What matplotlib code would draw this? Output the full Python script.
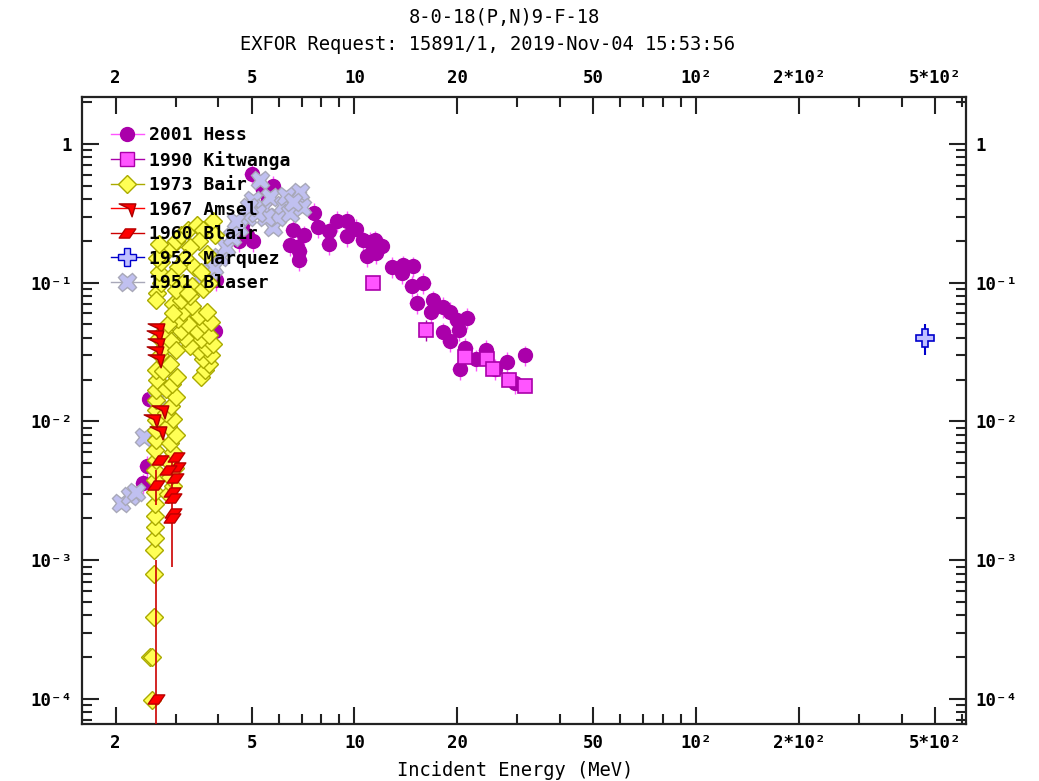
import matplotlib
matplotlib.use("Agg")
import matplotlib.pyplot as plt
import numpy as np
from matplotlib.path import Path
from matplotlib.lines import Line2D
from matplotlib.ticker import FixedLocator, FixedFormatter, NullFormatter

# ---------------- data ----------------
hess_E = [5.0, 5.77, 5.4, 5.6, 7.6, 6.6, 7.1, 6.46, 6.9, 6.9, 7.8, 8.4, 8.4, 8.9, 9.5,
          10.1, 9.5, 10.6, 11.1, 11.5, 12.0, 10.9, 11.6, 12.9, 13.9, 14.8, 13.8, 14.7,
          15.9, 15.2, 17.0, 16.8, 18.2, 19.0, 19.9, 21.4, 18.2, 20.2, 19.0, 21.1, 24.2,
          22.7, 28.0, 31.6, 20.3, 25.7, 29.6, 4.7, 5.05, 6.8, 4.85, 4.6,
          3.93, 3.9, 2.83, 2.51, 2.82, 2.47, 2.40]
hess_S = [0.61, 0.50, 0.466, 0.41, 0.32, 0.24, 0.22, 0.187, 0.17, 0.146, 0.252, 0.235, 0.19,
          0.28, 0.28, 0.244, 0.217, 0.203, 0.197, 0.203, 0.184, 0.157, 0.163, 0.13, 0.134,
          0.132, 0.118, 0.095, 0.1, 0.072, 0.075, 0.061, 0.067, 0.062, 0.054, 0.056, 0.044,
          0.046, 0.038, 0.034, 0.033, 0.028, 0.027, 0.030, 0.024, 0.024, 0.019, 0.26, 0.2,
          0.18, 0.22, 0.2,
          0.105, 0.045, 0.026, 0.0146, 0.0097, 0.0048, 0.0036]

kit_E = [11.3, 16.2, 21.0, 24.4, 25.4, 28.3, 31.5]
kit_S = [0.1, 0.046, 0.029, 0.028, 0.024, 0.020, 0.018]
kit_err = [0.0, 0.008, 0.0, 0.0, 0.0, 0.0, 0.0]

bair_E = [2.56, 2.52, 2.56, 2.59, 2.59, 2.59, 2.60, 2.60, 2.60, 2.61, 2.61, 2.60, 2.61,
          2.62, 2.60, 2.62, 2.63, 2.62, 2.63, 2.62, 2.63, 2.64, 2.63,
          2.85, 2.95, 2.88, 2.98, 2.85, 2.95, 2.88, 3.0, 2.85, 2.95, 2.8, 2.9, 3.0, 2.8,
          2.92, 3.02, 2.75, 2.88,
          3.55, 3.65, 3.75, 3.6, 3.8, 3.5, 3.7, 3.85, 3.55, 3.75, 3.45, 3.62, 3.8, 3.5,
          3.7, 3.3, 3.2, 3.1, 3.25, 3.05, 3.15, 3.35, 2.95, 3.1, 3.3, 2.7, 2.75, 2.68,
          2.78, 2.9, 3.0, 2.85, 2.95,
          2.65, 2.72, 2.68, 2.72, 2.78, 2.9, 3.0, 3.1, 3.25, 3.45, 3.6, 3.85, 3.5, 3.3,
          3.2, 3.4, 3.55, 3.05, 2.9, 3.15, 3.35, 3.6, 3.0, 3.25, 3.75, 3.9, 3.7, 2.62,
          2.65, 2.68]
bair_S = [9.8e-5, 2.0e-4, 2.0e-4, 3.9e-4, 8.0e-4, 1.19e-3, 1.44e-3, 1.73e-3, 2.1e-3,
          2.56e-3, 3.1e-3, 3.8e-3, 4.5e-3, 5.3e-3, 6.2e-3, 7.4e-3, 8.7e-3, 1.02e-2, 1.2e-2,
          1.43e-2, 1.69e-2, 1.99e-2, 2.35e-2,
          3.0e-3, 3.4e-3, 4.0e-3, 4.6e-3, 5.2e-3, 6.0e-3, 7.0e-3, 8.0e-3, 9.2e-3, 1.05e-2,
          1.15e-2, 1.3e-2, 1.5e-2, 1.7e-2, 1.85e-2, 2.1e-2, 2.3e-2, 2.6e-2,
          0.021, 0.0235, 0.026, 0.028, 0.030, 0.032, 0.034, 0.036, 0.039, 0.042, 0.045,
          0.05, 0.052, 0.058, 0.062, 0.035, 0.04, 0.045, 0.05, 0.055, 0.062, 0.068, 0.07,
          0.075, 0.08, 0.03, 0.034, 0.04, 0.045, 0.038, 0.033, 0.05, 0.06,
          0.085, 0.1, 0.12, 0.14, 0.16, 0.18, 0.2, 0.22, 0.24, 0.26, 0.24, 0.28, 0.2, 0.18,
          0.15, 0.13, 0.12, 0.13, 0.11, 0.1, 0.095, 0.09, 0.088, 0.085, 0.1, 0.22, 0.16,
          0.075, 0.15, 0.19]

amsel_E = [2.63, 2.60, 2.63, 2.60, 2.63, 2.70, 2.67, 2.55]
amsel_S = [0.047, 0.042, 0.037, 0.032, 0.028, 0.012, 0.0086, 0.0105]

blair_E = [2.62, 2.92, 2.63, 3.0, 3.02, 2.98, 2.95, 2.95, 2.69, 2.85, 2.92]
blair_S = [1.0e-4, 0.0031, 0.0035, 0.0055, 0.0047, 0.0039, 0.0028, 0.0022, 0.0053, 0.0045, 0.0020]
blair_err = [9e-4, 0.0022, 0.001, 0, 0, 0, 0, 0, 0, 0, 0]

marq_E = [467.0]
marq_S = [0.040]
marq_err = [0.010]

blaser_E = [2.08, 2.2, 2.3, 2.43, 2.64, 2.78, 3.2, 3.25, 3.45, 3.4, 3.6, 3.75, 3.87, 4.03,
            4.22, 4.39, 4.85, 5.05, 5.28, 5.39, 5.65, 5.76, 5.92, 6.17, 6.46, 6.8, 6.91,
            7.01, 4.6, 4.5, 5.5, 6.3, 6.6, 5.2, 4.9]
blaser_S = [0.0026, 0.0029, 0.0031, 0.0077, 0.015, 0.037, 0.065, 0.055, 0.047, 0.040, 0.1,
            0.12, 0.13, 0.153, 0.181, 0.214, 0.298, 0.395, 0.55, 0.346, 0.415, 0.252, 0.298,
            0.363, 0.318, 0.415, 0.45, 0.35, 0.25, 0.28, 0.3, 0.42, 0.38, 0.32, 0.35]

x_ticks = [2, 5, 10, 20, 50, 100, 200, 500]
x_labels = ["2", "5", "10", "20", "50", "10²", "2*10²", "5*10²"]
y_ticks = [1e-4, 1e-3, 1e-2, 1e-1, 1]
y_labels = ["10⁻⁴", "10⁻³", "10⁻²", "10⁻¹", "1"]

title1 = "8-0-18(P,N)9-F-18"
title2 = "EXFOR Request: 15891/1, 2019-Nov-04 15:53:56"
xlabel = "Incident Energy (MeV)"

# ---------------- style ----------------
FONT = "DejaVu Sans Mono"
HESS_REL_Y = 0.17
HESS_REL_X = 0.05

amsel_marker = Path([(-1.0, 0.55), (1.0, 0.55), (0.55, -1.0), (0.15, 0.0), (-1.0, 0.55)],
                    [Path.MOVETO, Path.LINETO, Path.LINETO, Path.LINETO, Path.CLOSEPOLY])
blair_marker = Path([(-1.0, -0.55), (0.25, -0.55), (1.0, 0.55), (-0.25, 0.55), (-1.0, -0.55)],
                    [Path.MOVETO, Path.LINETO, Path.LINETO, Path.LINETO, Path.CLOSEPOLY])

series = [
    dict(label="2001 Hess", marker="o", ms=10, mfc="#aa00aa", mec="#aa00aa", ec="#ff55ff"),
    dict(label="1990 Kitwanga", marker="s", ms=9.5, mfc="#ff55ff", mec="#aa00aa", ec="#aa00aa"),
    dict(label="1973 Bair", marker="D", ms=9, mfc="#ffff55", mec="#aaaa00", ec="#aaaa00"),
    dict(label="1967 Amsel", marker=amsel_marker, ms=12, mfc="#ff0000", mec="#aa0000", ec="#ff0000"),
    dict(label="1960 Blair", marker=blair_marker, ms=12, mfc="#ff0000", mec="#bb0000", ec="#cc0000"),
    dict(label="1952 Marquez", marker="P", ms=13, mfc="#c0c0ff", mec="#0000cc", ec="#0000cc"),
    dict(label="1951 Blaser", marker="X", ms=13, mfc="#c0c0f0", mec="#a8a8b8", ec="#a8a8b8"),
]

W, H = 1039, 781
fig = plt.figure(figsize=(W / 100, H / 100), dpi=100)
ax = fig.add_axes([82 / W, 1 - 724 / H, (966 - 82) / W, (724 - 97) / H])
ax.set_xscale("log")
ax.set_yscale("log")
ax.set_xlim(1.595, 616)
ax.set_ylim(6.6e-5, 2.18)

# Hess
s = series[0]
hE = np.array(hess_E); hS = np.array(hess_S)
ax.errorbar(hE, hS, yerr=HESS_REL_Y * hS, xerr=HESS_REL_X * hE, fmt="none",
            ecolor=s["ec"], elinewidth=1, zorder=2)
ax.plot(hE, hS, ls="none", marker=s["marker"], ms=s["ms"], mfc=s["mfc"], mec=s["mec"],
        mew=1, zorder=2.1)
# Kitwanga
s = series[1]
ax.errorbar(kit_E, kit_S, yerr=kit_err, fmt="none", ecolor=s["ec"], elinewidth=1, zorder=3)
ax.plot(kit_E, kit_S, ls="none", marker=s["marker"], ms=s["ms"], mfc=s["mfc"], mec=s["mec"],
        mew=1.2, zorder=3.1)
# Blaser (drawn under the threshold data)
s = series[6]
ax.plot(blaser_E, blaser_S, ls="none", marker=s["marker"], ms=s["ms"], mfc=s["mfc"],
        mec=s["mec"], mew=1, zorder=3.5)
# Bair
s = series[2]
ax.plot(bair_E, bair_S, ls="none", marker=s["marker"], ms=s["ms"], mfc=s["mfc"], mec=s["mec"],
        mew=1, zorder=4)
# Amsel
s = series[3]
ax.plot(amsel_E, amsel_S, ls="none", marker=s["marker"], ms=s["ms"], mfc=s["mfc"],
        mec=s["mec"], mew=1, zorder=5)
# Blair
s = series[4]
ax.errorbar(blair_E, blair_S, yerr=blair_err, fmt="none", ecolor=s["ec"], elinewidth=1.2, zorder=6)
ax.plot(blair_E, blair_S, ls="none", marker=s["marker"], ms=s["ms"], mfc=s["mfc"],
        mec=s["mec"], mew=1, zorder=6.1)
# Marquez
s = series[5]
ax.errorbar(marq_E, marq_S, yerr=marq_err, fmt="none", ecolor=s["ec"], elinewidth=1.5, zorder=7)
ax.plot(marq_E, marq_S, ls="none", marker=s["marker"], ms=s["ms"], mfc=s["mfc"],
        mec=s["mec"], mew=1.2, zorder=7.1)

# ticks
x_minor = [m * 10 ** d for d in range(0, 3) for m in range(1, 10)]
x_minor = [v for v in x_minor if v not in x_ticks]
y_minor = [m * 10.0 ** d for d in range(-5, 1) for m in range(2, 10)]
ax.xaxis.set_major_locator(FixedLocator(x_ticks))
ax.xaxis.set_major_formatter(FixedFormatter(x_labels))
ax.xaxis.set_minor_locator(FixedLocator(x_minor))
ax.xaxis.set_minor_formatter(NullFormatter())
ax.yaxis.set_major_locator(FixedLocator(y_ticks))
ax.yaxis.set_major_formatter(FixedFormatter(y_labels))
ax.yaxis.set_minor_locator(FixedLocator(y_minor))
ax.yaxis.set_minor_formatter(NullFormatter())
ax.tick_params(which="both", direction="in", top=True, right=True, labeltop=True,
               labelright=True, colors="#222222", width=1.5)
ax.tick_params(which="major", length=12, pad=7)
ax.tick_params(which="minor", length=7)
for lab in ax.get_xticklabels() + ax.get_yticklabels():
    lab.set_fontfamily(FONT)
    lab.set_fontsize(12.5)
    lab.set_fontweight("bold")
    lab.set_color("black")
for sp in ax.spines.values():
    sp.set_linewidth(1.6)
    sp.set_color("#222222")

fig.text(504 / W, 1 - 18 / H, title1, ha="center", va="center", fontsize=13.5, family=FONT)
fig.text(488 / W, 1 - 44 / H, title2, ha="center", va="center", fontsize=13.5, family=FONT)
fig.text(515 / W, 1 - 770 / H, xlabel, ha="center", va="center", fontsize=13.5, family=FONT)

handles = [Line2D([0], [0], color=s["ec"], lw=1, marker=s["marker"], ms=s["ms"],
                  mfc=s["mfc"], mec=s["mec"]) for s in series]
leg = ax.legend(handles, [s["label"] for s in series], loc="upper left",
                bbox_to_anchor=(22 / 884, 1 - 22 / 627), frameon=False, handlelength=1.8,
                handletextpad=0.3, labelspacing=0.36, borderaxespad=0,
                prop=dict(family=FONT, size=13, weight="bold"))

fig.savefig("out.png", dpi=100)
